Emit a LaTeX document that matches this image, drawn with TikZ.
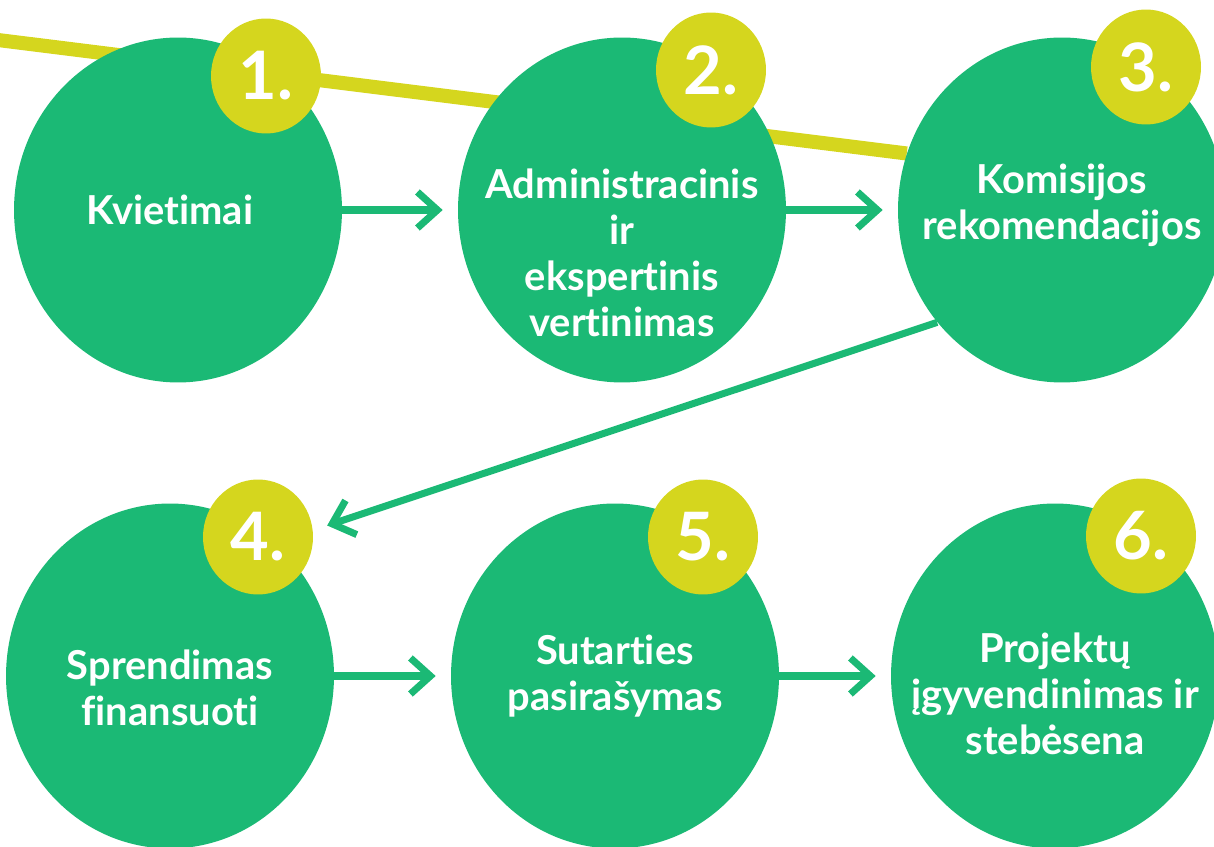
\documentclass[tikz,border=0pt]{standalone}
\usepackage{fontspec}
\setmainfont{Lato}[Ligatures=NoCommon]
\usetikzlibrary{arrows.meta,shapes.geometric,backgrounds}

\definecolor{stagegreen}{RGB}{27,185,117}
\definecolor{badgeyellow}{RGB}{213,214,30}

\begin{document}
\begin{tikzpicture}[x=0.02cm, y=-0.02cm,
  stage/.style = {ellipse, fill=stagegreen, minimum width=6.56cm, minimum height=6.9cm, inner sep=0},
  badge/.style = {ellipse, fill=badgeyellow, text=white, minimum width=2.2cm, minimum height=2.3cm, inner sep=0, font=\fontsize{38}{38}\selectfont\bfseries},
  stagetext/.style = {text=white, align=center, font=\fontsize{22.7}{26.3}\selectfont\bfseries},
  arr/.style = {draw=stagegreen, line width=4pt, -{Straight Barb[length=0.4cm, width=0.72cm]}, shorten >=0.3cm},
  yline/.style = {draw=badgeyellow, line width=8pt}]
\clip (0,0) rectangle (1214,847);

% stages
\node[stage] (c1) at (178,210) {};
\node[stage] (c2) at (622,210) {};
\node[stage] (c3) at (1062,210) {};
\node[stage] (c4) at (170,676) {};
\node[stage] (c5) at (615,676) {};
\node[stage] (c6) at (1055,676) {};

\node[stagetext] (t1) at ([xshift=-0.16cm]c1) {Kvietimai};
\node[stagetext] (t2) at ([yshift=-0.86cm]c2) {Administracinis\\ir\\ekspertinis\\vertinimas};
\node[stagetext] (t3) at ([yshift=0.1cm]c3) {Komisijos\\rekomendacijos};
\node[stagetext] (t4) at ([yshift=-0.24cm]c4) {Sprendimas\\finansuoti};
\node[stagetext] (t5) at (c5) {Sutarties\\pasirašymas};
\node[stagetext] (t6) at ([yshift=-0.36cm]c6) {Projektų\\įgyvendinimas ir\\stebėsena};

% numbers
\node[badge] (b1) at (266,76) {1.};
\node[badge] (b2) at (711,70) {2.};
\node[badge] (b3) at (1146,67) {3.};
\node[badge] (b4) at (258,537) {4.};
\node[badge] (b5) at (703,537) {5.};
\node[badge] (b6) at (1141,536) {6.};

% yellow line behind
\coordinate (ystart) at (-10,39);
\begin{scope}[on background layer]
\draw[yline] (ystart) -- (c3.160);
\end{scope}

\draw[arr] (c1) -- (c2);
\draw[arr] (c2) -- (c3);
\draw[arr] (c3.222) -- (b4.7);
\draw[arr] (c4) -- (c5);
\draw[arr] (c5) -- (c6);
\end{tikzpicture}
\end{document}
